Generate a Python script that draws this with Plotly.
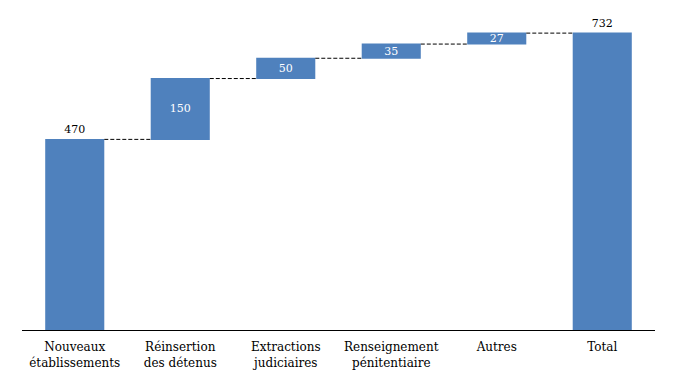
import plotly.graph_objects as go

categories = ["Nouveaux<br>établissements", "Réinsertion<br>des détenus", "Extractions<br>judiciaires",
              "Renseignement<br>pénitentiaire", "Autres", "Total"]
values = [470, 150, 50, 35, 27, 732]
measures = ["absolute", "relative", "relative", "relative", "relative", "total"]
labels = ["470", "150", "50", "35", "27", "732"]
positions = ["outside", "inside", "inside", "inside", "inside", "outside"]

blue = "#4F81BD"
serif = "DejaVu Serif, serif"
fig = go.Figure(go.Waterfall(
    x=categories, y=values, measure=measures,
    text=labels, textposition=positions, textangle=0,
    insidetextanchor="middle",
    insidetextfont=dict(color="white", family=serif, size=11),
    outsidetextfont=dict(color="black", family=serif, size=11),
    textfont=dict(family=serif, size=11),
    increasing=dict(marker=dict(color=blue)),
    decreasing=dict(marker=dict(color=blue)),
    totals=dict(marker=dict(color=blue)),
    connector=dict(line=dict(color="black", width=1, dash="4px,2px")),
    cliponaxis=False,
))

fig.update_layout(
    width=675, height=380,
    margin=dict(l=14, r=28, t=2, b=58),
    plot_bgcolor="white", paper_bgcolor="white",
    showlegend=False,
    waterfallgap=0.44,
    font=dict(family=serif, size=12, color="black"),
    uniformtext=dict(minsize=11, mode="show"),
    xaxis=dict(showline=True, linecolor="black", linewidth=1, ticks="", showgrid=False,
               automargin=False, ticklabelstandoff=6,
               tickfont=dict(family=serif, size=12, color="black")),
    yaxis=dict(visible=False, range=[0, 789], showgrid=False, zeroline=False, automargin=False),
)

fig.write_html("out.html")
